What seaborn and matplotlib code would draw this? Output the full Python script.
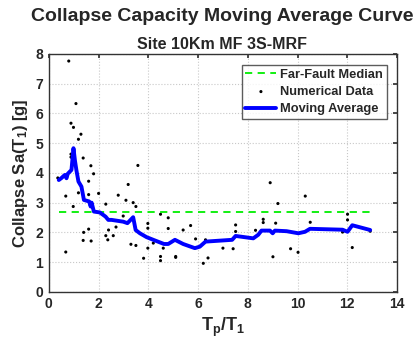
import numpy as np
import pandas as pd
import seaborn as sns
import matplotlib.pyplot as plt

# numerical data (Tp/T1, collapse Sa)
tp_ratio = [0.80, 1.09, 0.89, 0.99, 1.29, 1.19, 0.89, 0.89, 1.38, 1.69, 1.80, 0.36,
            1.60, 1.19, 2.00, 0.68, 1.60, 0.98, 2.29, 2.79, 3.10, 3.19, 3.39, 3.50,
            3.58, 2.99, 2.70, 2.40, 2.37, 2.29, 2.59, 1.60, 1.40, 1.38, 1.70, 0.68,
            3.30, 3.50, 3.98, 3.98, 3.98, 3.81, 4.20, 4.49, 4.80, 4.80, 4.49, 4.49,
            4.60, 5.10, 5.10, 5.40, 5.70, 5.90, 6.30, 6.21, 6.40, 7.00, 7.41, 7.51,
            7.51, 8.31, 8.62, 8.62, 8.90, 9.21, 9.12, 9.01, 9.72, 10.02, 10.31, 10.51,
            11.81, 12.01, 12.01, 12.20, 12.92]
sa_data = [7.76, 6.33, 5.67, 5.53, 5.30, 5.13, 4.63, 4.53, 4.50, 4.24, 3.97, 3.83,
           3.72, 3.33, 3.31, 3.22, 3.27, 2.87, 2.95, 3.25, 3.08, 3.61, 3.00, 2.87,
           4.25, 2.55, 2.18, 2.08, 1.75, 1.89, 1.89, 2.11, 2.00, 1.73, 1.71, 1.34,
           1.60, 1.56, 2.30, 2.14, 1.47, 1.13, 1.64, 2.61, 2.49, 2.13, 1.19, 1.05,
           1.47, 1.19, 1.16, 2.08, 2.23, 1.78, 1.75, 0.96, 1.14, 1.47, 1.45, 2.25,
           2.03, 2.07, 2.44, 2.33, 3.67, 2.97, 2.31, 1.18, 1.45, 1.33, 3.22, 2.34,
           2.01, 2.61, 2.42, 1.49, 2.04]

# moving average curve
ma_x = [0.40, 0.51, 0.64, 0.71, 0.76, 0.91, 0.99, 1.05, 1.11, 1.19, 1.31, 1.41,
        1.62, 1.68, 1.72, 1.81, 2.05, 2.28, 2.39, 2.52, 2.99, 3.16, 3.39, 3.49,
        3.66, 3.93, 4.20, 4.63, 4.80, 5.07, 5.40, 5.87, 6.07, 6.30, 7.37, 7.51,
        8.22, 8.42, 8.55, 8.89, 9.00, 9.09, 9.56, 10.03, 10.30, 10.50, 11.81, 12.01,
        12.20, 12.92]
ma_y = [3.76, 3.83, 3.93, 3.82, 3.97, 4.10, 4.83, 4.41, 4.08, 3.71, 3.54, 3.09,
        3.04, 2.87, 3.00, 2.70, 2.67, 2.53, 2.42, 2.42, 2.36, 2.31, 2.51, 2.08,
        1.97, 1.84, 1.75, 1.61, 1.61, 1.75, 1.61, 1.47, 1.52, 1.69, 1.75, 1.88,
        1.80, 1.92, 2.06, 2.06, 1.97, 2.06, 2.04, 1.97, 2.02, 2.12, 2.09, 2.02,
        2.24, 2.08]

median_x = [0.40, 12.95]
median_y = [2.69, 2.69]

sns.set_theme(style='white')
plt.rcParams['font.family'] = ['Liberation Sans', 'DejaVu Sans']
plt.rcParams['font.weight'] = 'bold'
plt.rcParams['mathtext.fontset'] = 'custom'
plt.rcParams['mathtext.rm'] = 'Liberation Sans:bold'
plt.rcParams['mathtext.it'] = 'Liberation Sans:bold'
plt.rcParams['mathtext.bf'] = 'Liberation Sans:bold'
plt.rcParams['mathtext.default'] = 'rm'

fig = plt.figure(figsize=(4.14, 3.39), dpi=100)
ax = fig.add_axes([0.118, 0.139, 0.841, 0.702])

sns.lineplot(x=median_x, y=median_y, ax=ax, color='#00ee00', linestyle=(0, (4, 3)),
             linewidth=1.3, label='Far-Fault Median')
sns.scatterplot(x=tp_ratio, y=sa_data, ax=ax, color='black', s=5, marker='o',
                edgecolor='none', label='Numerical Data')
sns.lineplot(x=ma_x, y=ma_y, ax=ax, color='#0000ff', linewidth=2.8,
             sort=False, label='Moving Average')

ax.set_xlim(0, 14)
ax.set_ylim(0, 8)
ax.set_xticks(range(0, 15, 2))
ax.set_yticks(range(0, 9))
ax.grid(True, linestyle=':', color='#c8c8c8', linewidth=0.8)
ax.tick_params(direction='in', top=True, right=True, length=3, labelsize=10,
               color='#333333', pad=4)
for lab in ax.get_xticklabels() + ax.get_yticklabels():
    lab.set_fontweight('bold')
for sp in ax.spines.values():
    sp.set_color('#333333')
    sp.set_linewidth(1.0)

ax.set_xlabel(r'$T_p/T_1$', fontsize=13, labelpad=3)
ax.set_ylabel(r'Collapse Sa($T_1$) [g]', fontsize=12, fontweight='bold', labelpad=4)

fig.text(0.536, 0.95, 'Collapse Capacity Moving Average Curve', ha='center',
         va='center', fontsize=14, fontweight='bold')
fig.text(0.536, 0.87, 'Site 10Km MF 3S-MRF', ha='center', va='center',
         fontsize=11.5, fontweight='bold')

leg = ax.legend(loc='upper right', fontsize=9.3, frameon=True, fancybox=False,
                edgecolor='#333333', handlelength=2.4, borderpad=0.3,
                labelspacing=0.4, handletextpad=0.3, markerscale=1.0,
                borderaxespad=0.0, bbox_to_anchor=(0.971, 0.954))
leg.get_frame().set_linewidth(1.0)
for t in leg.get_texts():
    t.set_fontweight('bold')

fig.savefig('out.png', dpi=100)
